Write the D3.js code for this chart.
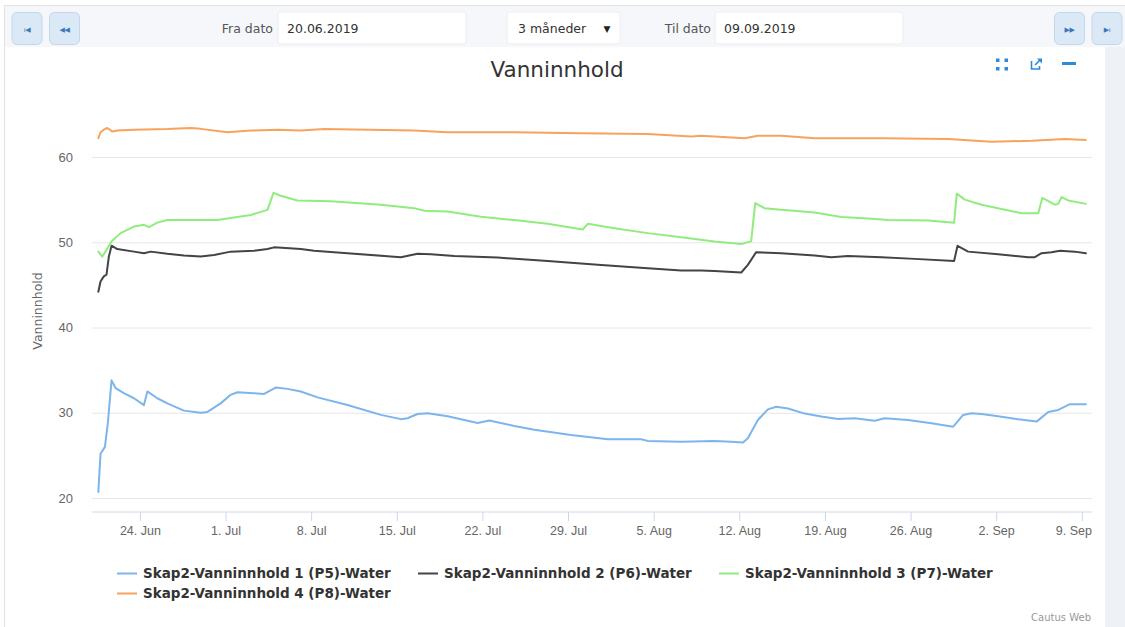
<!DOCTYPE html>
<html>
<head>
<meta charset="utf-8">
<script src="https://cdn.jsdelivr.net/npm/d3@7"></script>
<style>
  html, body { margin: 0; padding: 0; background: #fff; }
  svg { display: block; font-family: "DejaVu Sans", Verdana, sans-serif; }
</style>
</head>
<body>
<svg id="chart"></svg>
<script>
// time is given as days since 20.06.2019 00:00
const startDate = Date.UTC(2019, 5, 20);

const seriesNames = [
  "Skap2-Vanninnhold 1 (P5)-Water",
  "Skap2-Vanninnhold 2 (P6)-Water",
  "Skap2-Vanninnhold 3 (P7)-Water",
  "Skap2-Vanninnhold 4 (P8)-Water",
];
const seriesColors = ["#7cb5ec", "#434348", "#90ed7d", "#f7a35c"];

const p5Days = [0.60, 0.78, 1.14, 1.38, 1.68, 2.01, 2.69, 3.51, 4.33, 4.61, 5.42, 6.24, 7.60, 8.97, 9.52, 10.60, 11.42, 11.97, 13.33, 14.15, 15.10, 16.06, 17.15, 18.52, 20.97, 23.70, 25.33, 25.88, 26.70, 27.52, 29.16, 31.61, 32.56, 34.61, 36.24, 39.25, 42.25, 44.97, 45.52, 48.25, 50.97, 52.34, 53.30, 53.70, 54.52, 55.34, 56.02, 56.98, 58.34, 59.70, 61.07, 62.43, 64.07, 64.88, 66.80, 68.71, 70.48, 70.61, 71.30, 71.98, 72.80, 74.16, 75.80, 77.30, 78.26, 79.07, 80.03, 81.33];
const p5Values = [20.7, 25.2, 26.0, 28.8, 33.8, 32.9, 32.3, 31.7, 30.9, 32.5, 31.7, 31.1, 30.25, 30.0, 30.1, 31.1, 32.1, 32.4, 32.3, 32.2, 32.95, 32.8, 32.5, 31.8, 30.9, 29.75, 29.25, 29.35, 29.85, 29.95, 29.6, 28.8, 29.1, 28.45, 28.0, 27.4, 26.9, 26.9, 26.7, 26.6, 26.7, 26.6, 26.5, 27.0, 29.15, 30.4, 30.7, 30.5, 29.9, 29.55, 29.27, 29.35, 29.07, 29.35, 29.15, 28.77, 28.37, 28.57, 29.74, 29.94, 29.86, 29.6, 29.24, 28.96, 30.1, 30.33, 31.0, 31.0];

const p6Days = [0.60, 0.78, 1.05, 1.27, 1.46, 1.68, 2.15, 3.51, 4.33, 4.88, 6.24, 7.60, 8.97, 10.06, 11.42, 13.33, 14.43, 14.97, 17.15, 18.24, 20.97, 25.33, 26.70, 27.79, 29.70, 33.25, 37.34, 41.43, 45.52, 48.25, 49.88, 50.97, 53.16, 53.70, 54.38, 56.43, 59.16, 60.52, 61.89, 64.62, 67.34, 70.56, 70.84, 71.71, 74.16, 76.62, 77.16, 77.71, 78.53, 79.21, 80.43, 81.33];
const p6Values = [44.2, 45.4, 46.0, 46.2, 48.3, 49.6, 49.2, 48.9, 48.7, 48.9, 48.64, 48.44, 48.32, 48.5, 48.9, 49.0, 49.2, 49.4, 49.2, 49.0, 48.7, 48.25, 48.64, 48.6, 48.4, 48.2, 47.8, 47.35, 46.96, 46.7, 46.7, 46.64, 46.45, 47.35, 48.84, 48.72, 48.44, 48.25, 48.4, 48.25, 48.05, 47.8, 49.58, 48.9, 48.6, 48.25, 48.25, 48.72, 48.84, 49.0, 48.9, 48.7];

const p7Days = [0.60, 0.92, 1.19, 1.68, 2.42, 3.51, 4.33, 4.74, 5.42, 6.24, 7.60, 10.33, 11.69, 13.06, 14.43, 14.92, 15.51, 16.88, 19.61, 23.70, 26.42, 27.24, 29.16, 31.88, 34.61, 37.34, 40.20, 40.61, 42.79, 45.52, 48.25, 50.97, 53.16, 53.97, 54.30, 55.06, 56.43, 59.16, 61.34, 63.53, 65.16, 68.44, 70.56, 70.78, 71.43, 72.80, 76.07, 77.44, 77.77, 78.80, 79.07, 79.35, 79.89, 81.33];
const p7Values = [48.9, 48.3, 48.9, 50.1, 51.07, 51.84, 52.04, 51.77, 52.3, 52.6, 52.6, 52.6, 52.9, 53.2, 53.8, 55.8, 55.45, 54.9, 54.8, 54.4, 54.0, 53.7, 53.6, 53.0, 52.6, 52.16, 51.5, 52.16, 51.65, 51.07, 50.6, 50.1, 49.8, 50.1, 54.6, 54.0, 53.8, 53.5, 52.95, 52.8, 52.6, 52.55, 52.3, 55.7, 55.0, 54.4, 53.4, 53.4, 55.2, 54.4, 54.5, 55.3, 54.9, 54.5];

const p8Days = [0.60, 0.78, 1.05, 1.33, 1.74, 2.15, 3.51, 6.24, 8.15, 8.97, 11.15, 13.06, 15.24, 17.15, 19.06, 26.42, 29.16, 34.61, 40.06, 45.52, 49.07, 49.88, 50.97, 53.43, 54.52, 56.43, 59.16, 64.62, 70.07, 73.62, 76.89, 79.63, 81.33];
const p8Values = [62.2, 62.9, 63.2, 63.4, 63.0, 63.1, 63.2, 63.27, 63.4, 63.3, 62.9, 63.1, 63.2, 63.1, 63.27, 63.1, 62.9, 62.9, 62.8, 62.7, 62.4, 62.5, 62.4, 62.2, 62.5, 62.5, 62.2, 62.2, 62.1, 61.8, 61.9, 62.1, 62.0];

const seriesDays = [p5Days, p6Days, p7Days, p8Days];
const seriesValues = [p5Values, p6Values, p7Values, p8Values];

const yTicks = [20, 30, 40, 50, 60];
const xTickDates = ["2019-06-24", "2019-07-01", "2019-07-08", "2019-07-15", "2019-07-22", "2019-07-29", "2019-08-05", "2019-08-12", "2019-08-19", "2019-08-26", "2019-09-02", "2019-09-09"];
const xTickLabels = ["24. Jun", "1. Jul", "8. Jul", "15. Jul", "22. Jul", "29. Jul", "5. Aug", "12. Aug", "19. Aug", "26. Aug", "2. Sep", "9. Sep"];

const chartTitle = "Vanninnhold";
const yTitle = "Vanninnhold";
const fromLabel = "Fra dato", fromValue = "20.06.2019";
const periodValue = "3 måneder";
const toLabel = "Til dato", toValue = "09.09.2019";
const creditText = "Cautus Web";

window.onload = function () {
  const svg = d3.select("#chart").attr("width", 1125).attr("height", 627);
  const toDate = (d) => new Date(startDate + d * 864e5);

  const plotLeft = 92, plotRight = 1092, plotBottom = 512;

  const x = d3
    .scaleUtc()
    .domain([new Date(Date.UTC(2019, 5, 20, 2)), new Date(Date.UTC(2019, 8, 9, 20))])
    .range([plotLeft, plotRight]);
  const y = d3.scaleLinear().domain([20, 60]).range([498, 157]);

  // frame + toolbar
  svg.append("rect").attr("x", 5).attr("y", 5).attr("width", 1120).attr("height", 42).attr("fill", "#f5f7fa");
  svg.append("rect").attr("x", 1105).attr("y", 47).attr("width", 20).attr("height", 580).attr("fill", "#eef1f6");
  svg.append("path").attr("d", "M4.5,627V5.5H1125").attr("fill", "none").attr("stroke", "#e2e2e2");

  const navButtons = [
    { x: 12, label: "ı◀" },
    { x: 49.5, label: "◀◀" },
    { x: 1054.5, label: "▶▶" },
    { x: 1092, label: "▶ı" },
  ];
  const btn = svg.selectAll(".nav").data(navButtons).enter().append("g").attr("class", "nav");
  btn.append("rect")
    .attr("x", (d) => d.x).attr("y", 12.5).attr("width", 30).attr("height", 32).attr("rx", 5)
    .attr("fill", "#dbe8f5").attr("stroke", "#c3d7ea");
  btn.append("text")
    .attr("x", (d) => d.x + 15).attr("y", 31.5).attr("text-anchor", "middle")
    .attr("font-size", "7px").attr("letter-spacing", "-0.5px").attr("fill", "#3b78b8")
    .text((d) => d.label);

  const boxes = [
    { x: 278, w: 188 },
    { x: 507, w: 113 },
    { x: 715, w: 188 },
  ];
  svg.selectAll(".box").data(boxes).enter().append("rect")
    .attr("x", (d) => d.x).attr("y", 12).attr("width", (d) => d.w).attr("height", 32).attr("rx", 3)
    .attr("fill", "#fff").attr("stroke", "#eceef1");

  const tb = svg.append("g").attr("font-size", "12.5px");
  tb.append("text").attr("x", 273).attr("y", 32.5).attr("text-anchor", "end").attr("fill", "#555").text(fromLabel);
  tb.append("text").attr("x", 287).attr("y", 32.5).attr("fill", "#333").text(fromValue);
  tb.append("text").attr("x", 518).attr("y", 32.5).attr("fill", "#333").text(periodValue);
  tb.append("text").attr("x", 607).attr("y", 31.5).attr("text-anchor", "middle").attr("font-size", "9px").attr("fill", "#222").text("▼");
  tb.append("text").attr("x", 711).attr("y", 32.5).attr("text-anchor", "end").attr("fill", "#555").text(toLabel);
  tb.append("text").attr("x", 724).attr("y", 32.5).attr("fill", "#333").text(toValue);

  // title + chart icons
  svg.append("text").attr("x", 557).attr("y", 77).attr("text-anchor", "middle")
    .attr("font-size", "21.5px").attr("fill", "#333").text(chartTitle);

  const iconColor = "#2f8ad8";
  const fs = svg.append("g").attr("fill", iconColor);
  [[996, 58.5], [1004.5, 58.5], [996, 67], [1004.5, 67]].forEach(([a, b]) =>
    fs.append("rect").attr("x", a).attr("y", b).attr("width", 3.5).attr("height", 3.5));
  svg.append("path").attr("d", "M1031.5,61v8h8v-3 M1035,65l5.5,-5.5").attr("fill", "none")
    .attr("stroke", iconColor).attr("stroke-width", 1.6);
  svg.append("path").attr("d", "M1037,58.5h5v5z").attr("fill", iconColor);
  svg.append("rect").attr("x", 1062).attr("y", 62).attr("width", 14).attr("height", 3).attr("fill", iconColor);

  // y axis with grid
  const yAxis = svg.append("g").attr("transform", `translate(${plotLeft},0)`)
    .call(d3.axisLeft(y).tickValues(yTicks).tickSize(-(plotRight - plotLeft)).tickPadding(19));
  yAxis.select(".domain").remove();
  yAxis.selectAll("line").attr("stroke", "#e6e6e6");
  yAxis.selectAll("text").attr("fill", "#666").attr("font-size", "13px").attr("font-family", null);

  svg.append("text")
    .attr("transform", "translate(42,311) rotate(-90)")
    .attr("text-anchor", "middle").attr("font-size", "12.5px").attr("fill", "#666")
    .text(yTitle);

  // x axis
  const xAxis = svg.append("g").attr("transform", `translate(0,${plotBottom})`)
    .call(d3.axisBottom(x)
      .tickValues(xTickDates.map((s) => new Date(s + "T00:00:00Z")))
      .tickFormat((d, i) => xTickLabels[i])
      .tickSize(9).tickPadding(5));
  xAxis.select(".domain").remove();
  xAxis.append("line").attr("x1", plotLeft).attr("x2", plotRight).attr("stroke", "#ccd6eb");
  xAxis.selectAll(".tick line").attr("stroke", "#ccd6eb");
  xAxis.selectAll("text").attr("fill", "#666").attr("font-size", "12.5px").attr("font-family", null);
  xAxis.selectAll(".tick text").each(function () {
    const b = this.getBBox();
    const tick = this.parentNode.getAttribute("transform");
    const tx = +tick.match(/translate\(([\d.]+)/)[1];
    if (tx + b.x + b.width > plotRight) d3.select(this).attr("x", plotRight - (tx + b.x + b.width));
  });

  // series
  const line = d3.line().x((d) => x(toDate(d[0]))).y((d) => y(d[1]));
  seriesDays.forEach((days, i) => {
    const pts = days.map((d, j) => [d, seriesValues[i][j]]);
    svg.append("path").datum(pts)
      .attr("d", line).attr("fill", "none")
      .attr("stroke", seriesColors[i]).attr("stroke-width", 2)
      .attr("stroke-linejoin", "round").attr("stroke-linecap", "round");
  });

  // legend
  const legend = svg.append("g").attr("font-weight", "bold").attr("fill", "#333");
  const probe = legend.append("text").attr("font-size", "12.5px").text(seriesNames[0]);
  const fit = 12.5 * 248 / probe.node().getComputedTextLength();
  probe.remove();
  seriesNames.forEach((name, i) => {
    const col = i % 3, row = Math.floor(i / 3);
    const lx = 117 + col * (20 + 6 + 248 + 27);
    const ly = 573.5 + row * 20;
    legend.append("line").attr("x1", lx).attr("x2", lx + 20).attr("y1", ly).attr("y2", ly)
      .attr("stroke", seriesColors[i]).attr("stroke-width", 2);
    legend.append("text").attr("x", lx + 26).attr("y", ly + 4.5)
      .attr("font-size", fit + "px").text(name);
  });

  svg.append("text").attr("x", 1091).attr("y", 621).attr("text-anchor", "end")
    .attr("font-size", "10px").attr("fill", "#999").text(creditText);
};
</script>
</body>
</html>
